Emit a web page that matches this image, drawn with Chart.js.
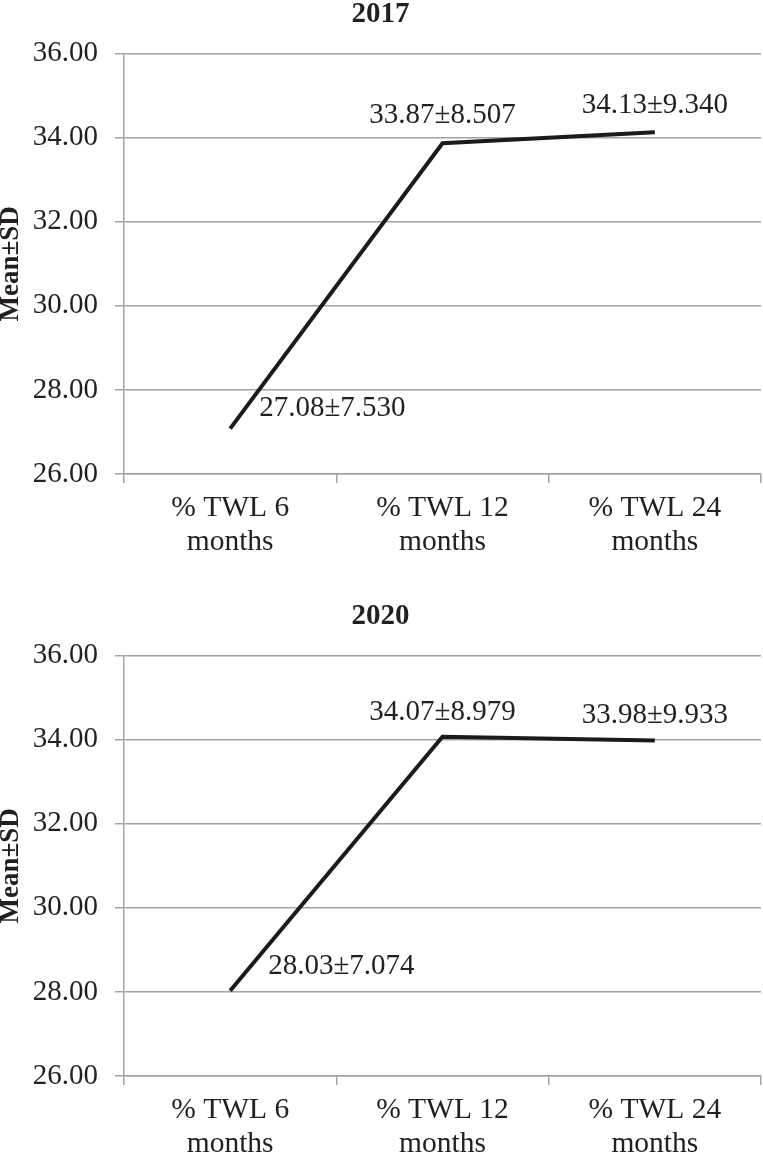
<!DOCTYPE html>
<html>
<head>
<meta charset="utf-8">
<script src="https://cdn.jsdelivr.net/npm/chart.js@4"></script>
<style>
  html, body { margin: 0; padding: 0; background: #fff; overflow: hidden; }
  #wrap { position: relative; width: 763px; height: 1155px; overflow: hidden; }
  canvas { position: absolute; left: 0; }
</style>
</head>
<body>
<div id="wrap">
  <canvas id="chart2017" width="763" height="600" style="top:0"></canvas>
  <canvas id="chart2020" width="763" height="600" style="top:602px"></canvas>
</div>
<script>
// categories and values
const categories = [['% TWL 6', 'months'], ['% TWL 12', 'months'], ['% TWL 24', 'months']];
const means2017 = [27.08, 33.87, 34.13];
const sds2017 = [7.530, 8.507, 9.340];
const means2020 = [28.03, 34.07, 33.98];
const sds2020 = [7.074, 8.979, 9.933];
const yMin = 26;
const yMax = 36;
const yStep = 2;

const FONT = '"Liberation Serif", "Times New Roman", serif';
const TEXT = '#231f20';
const GRID = '#a3a3a3';

// draws "mean±sd" next to each point, offsets per chart
const labelPlugin = {
  id: 'meanSdLabels',
  afterDatasetsDraw(chart, args, opts) {
    const ctx = chart.ctx;
    const meta = chart.getDatasetMeta(0);
    ctx.save();
    ctx.font = '29px ' + FONT;
    ctx.fillStyle = TEXT;
    ctx.textBaseline = 'alphabetic';
    meta.data.forEach((pt, i) => {
      const off = opts.offsets[i];
      ctx.textAlign = off.align;
      const txt = opts.means[i].toFixed(2) + '±' + opts.sds[i].toFixed(3);
      ctx.fillText(txt, pt.x + off.dx, pt.y + off.dy);
    });
    ctx.restore();
  }
};

function makeChart(id, year, means, sds, offsets) {
  const ctx = document.getElementById(id).getContext('2d');
  return new Chart(ctx, {
    type: 'line',
    data: {
      labels: categories,
      datasets: [{
        data: means,
        borderColor: '#1b1b1b',
        borderWidth: 4,
        pointRadius: 0,
        tension: 0,
        fill: false,
      }],
    },
    options: {
      responsive: false,
      animation: false,
      events: [],
      layout: { padding: { left: 0, right: 2, top: 2, bottom: 0 } },
      plugins: {
        legend: { display: false },
        tooltip: { enabled: false },
        title: {
          display: true,
          text: year,
          color: TEXT,
          font: { family: FONT, size: 29, weight: 'bold', lineHeight: 0.85 },
          padding: { top: 0, bottom: 27 },
        },
        meanSdLabels: { means, sds, offsets },
      },
      scales: {
        x: {
          type: 'category',
          offset: true,
          grid: { offset: true, drawOnChartArea: false, drawTicks: true, tickLength: 9, color: GRID, lineWidth: 1.5 },
          border: { color: GRID, width: 1.5 },
          ticks: { color: TEXT, font: { family: FONT, size: 29.5, lineHeight: 1.15 }, padding: 8, maxRotation: 0, autoSkip: false },
          afterFit: (s) => { s.height = 126; },
        },
        y: {
          min: yMin,
          max: yMax,
          grid: { color: GRID, lineWidth: 1.5, tickLength: 9 },
          border: { color: GRID, width: 1.5 },
          ticks: {
            stepSize: yStep,
            color: TEXT,
            font: { family: FONT, size: 29 },
            padding: 17,
            callback: (v) => Number(v).toFixed(2),
          },
          title: {
            display: true,
            text: 'Mean±SD',
            color: TEXT,
            font: { family: FONT, size: 27, weight: 'bold', lineHeight: 0.82 },
            padding: 0,
          },
          afterFit: (s) => { s.width = 124; },
        },
      },
    },
    plugins: [labelPlugin],
  });
}

makeChart('chart2017', '2017', means2017, sds2017, [
  { dx: 29, dy: -13, align: 'left' },
  { dx: 0, dy: -20, align: 'center' },
  { dx: 0, dy: -19, align: 'center' },
]);

makeChart('chart2020', '2020', means2020, sds2020, [
  { dx: 38, dy: -17, align: 'left' },
  { dx: 0, dy: -17, align: 'center' },
  { dx: 0, dy: -18, align: 'center' },
]);
</script>
</body>
</html>
